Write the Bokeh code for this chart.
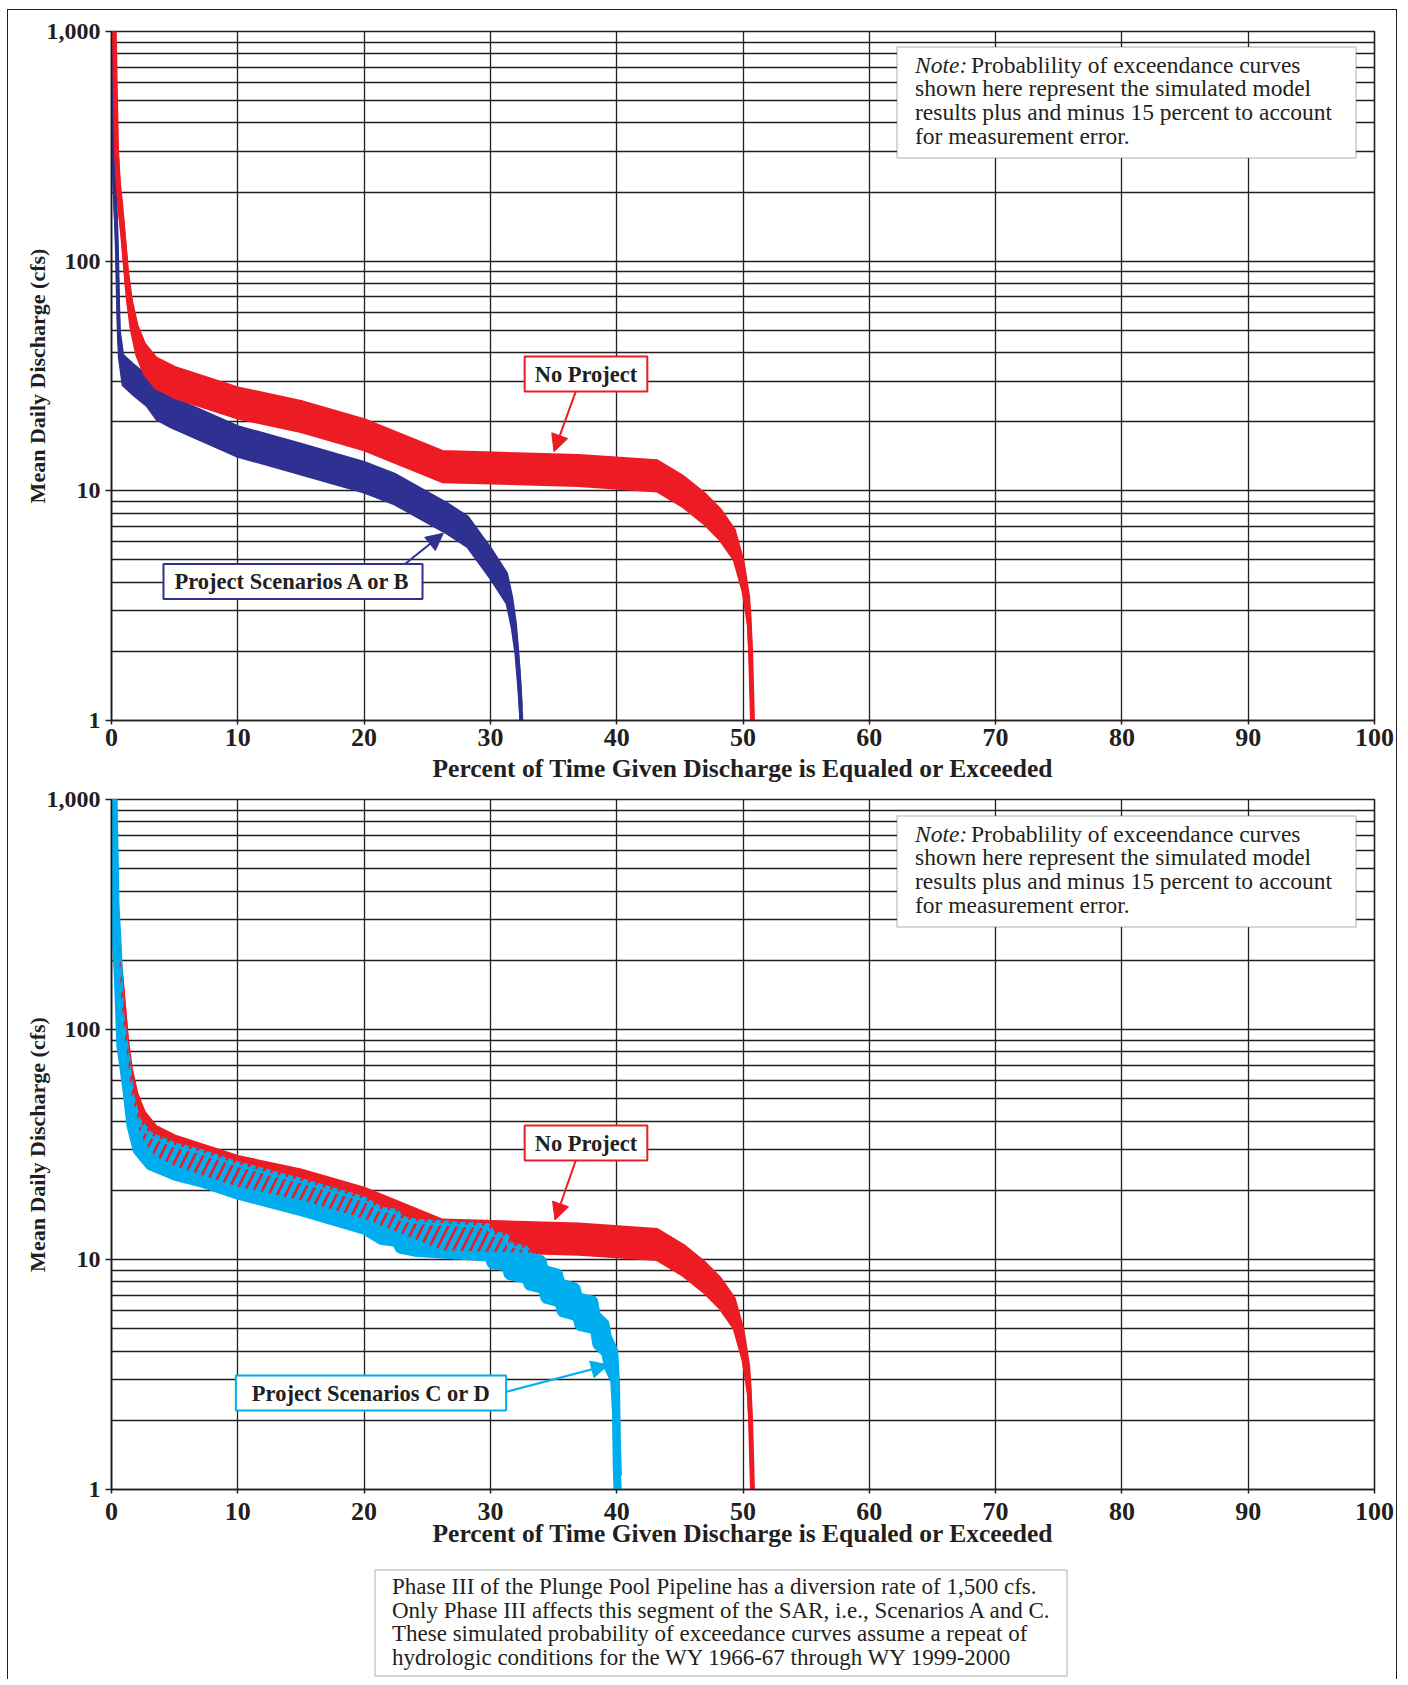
from bokeh.plotting import figure
from bokeh.models import (FixedTicker, NumeralTickFormatter, Label, BoxAnnotation,
                          Arrow, NormalHead, Range1d)
from bokeh.layouts import column
from bokeh.embed import file_html
from bokeh.resources import INLINE

# ---------------- data ----------------
# model (central) exceedance curves: percent of time vs mean daily discharge (cfs)
no_project_pct = [0.22, 0.32, 0.4, 0.58, 0.8, 1.1, 1.25, 1.57, 2.0, 2.6, 3.5, 5.0, 10.0, 15.0,
                  20.0, 26.2, 37.0, 43.2, 45.3, 47.0, 48.2, 49.3, 50.0, 50.45, 50.6, 50.75]
no_project_cfs = [1000, 500, 300, 200, 155, 100, 80, 59, 46, 38, 33, 30, 24.4, 21.3,
                  17.75, 12.9, 12.4, 11.75, 10.0, 8.4, 7.2, 5.9, 4.3, 3.0, 2.0, 1.0]

scen_ab_pct = [0.1, 0.12, 0.22, 0.38, 0.45, 0.52, 0.6, 0.9, 1.8, 2.8, 3.6, 4.7, 10.0, 15.0,
               20.0, 22.4, 26.6, 28.2, 30.0, 31.3, 31.7, 32.0, 32.2, 32.35, 32.45]
scen_ab_cfs = [1000, 350, 220, 140, 100, 65, 45, 34, 30.6, 27.6, 24.0, 22.3, 16.6, 13.9,
               11.6, 10.3, 7.65, 6.7, 4.9, 3.8, 3.0, 2.3, 1.7, 1.3, 1.0]

scen_cd_pct = [0.15, 0.25, 0.32, 0.5, 0.7, 1.17, 1.5, 2.0, 3.0, 5.0, 7.0, 10.0, 15.0, 20.0,
               21.3, 22.5, 22.8, 24.0, 29.8, 30.1, 31.2, 31.4, 32.8, 33.0, 34.1, 34.3, 35.4,
               35.6, 36.8, 37.0, 38.2, 38.4, 39.1, 39.3, 39.8, 39.95, 40.0, 40.1]
scen_cd_cfs = [1000, 500, 300, 200, 100, 65, 45, 35, 30, 27, 25.3, 22.3, 18.9, 15.7,
               14.2, 13.9, 13.0, 12.6, 12.0, 11.1, 10.9, 10.0, 9.6, 9.0, 8.7, 7.9, 7.6,
               6.9, 6.6, 6.0, 5.8, 5.0, 4.6, 4.0, 3.5, 2.5, 1.5, 1.0]

MEASUREMENT_ERROR = 0.15   # curves shown as model +/- 15 percent

x_ticks = [0, 10, 20, 30, 40, 50, 60, 70, 80, 90, 100]
y_ticks = [1, 10, 100, 1000]
y_minor_ticks = [2, 3, 4, 5, 6, 7, 8, 9, 20, 30, 40, 50, 60, 70, 80, 90,
                 200, 300, 400, 500, 600, 700, 800, 900]

note_lines = ["Probablility of exceendance curves",
              "shown here represent the simulated model",
              "results plus and minus 15 percent to account",
              "for measurement error."]
footnote_lines = ["Phase III of the Plunge Pool Pipeline has a diversion rate of 1,500 cfs.",
                  "Only Phase III affects this segment of the SAR, i.e., Scenarios A and C.",
                  "These simulated probability of exceedance curves assume a repeat of",
                  "hydrologic conditions for the WY 1966-67 through WY 1999-2000"]

RED = "#ED1C24"
NAVY = "#2E3192"
CYAN = "#00AEEF"
INK = "#231F20"
SERIF = "Liberation Serif"

FRAME_LEFT = 111.5    # page px of frame left
FRAME_W = 1263
PX_PER_PCT = 12.63
BORDER_L = 103
BORDER_R = 22


def band(values):
    lo = [v * (1 - MEASUREMENT_ERROR) for v in values]
    hi = [v * (1 + MEASUREMENT_ERROR) for v in values]
    return lo, hi


def make_fig(frame_h, top_b, bottom_b, tick_standoff, title_standoff):
    p = figure(x_range=Range1d(0, 100), y_range=Range1d(1, 1000), y_axis_type="log",
               frame_width=FRAME_W, frame_height=frame_h,
               min_border_left=BORDER_L, min_border_right=BORDER_R,
               min_border_top=top_b, min_border_bottom=bottom_b,
               output_backend="svg", toolbar_location=None)
    p.background_fill_color = "white"
    p.border_fill_color = "white"
    p.outline_line_color = INK
    p.outline_line_width = 1.6

    p.xaxis.ticker = FixedTicker(ticks=x_ticks)
    p.yaxis.ticker = FixedTicker(ticks=y_ticks, minor_ticks=y_minor_ticks)
    p.yaxis.formatter = NumeralTickFormatter(format="0,0")

    for ax in (p.xaxis[0], p.yaxis[0]):
        ax.axis_line_color = INK
        ax.axis_line_width = 1.5
        ax.major_tick_line_color = INK
        ax.major_tick_line_width = 1.5
        ax.major_tick_in = 0
        ax.minor_tick_line_color = None
        ax.major_label_text_font = SERIF
        ax.major_label_text_font_style = "bold"
        ax.major_label_text_color = INK
        ax.axis_label_text_font = SERIF
        ax.axis_label_text_font_style = "bold"
        ax.axis_label_text_color = INK

    p.xaxis.major_tick_out = 4
    p.xaxis.major_label_text_font_size = "26px"
    p.xaxis.major_label_standoff = tick_standoff
    p.xaxis.axis_label = "Percent of Time Given Discharge is Equaled or Exceeded"
    p.xaxis.axis_label_text_font_size = "25.5px"
    p.xaxis.axis_label_standoff = title_standoff

    p.yaxis.major_tick_out = 6
    p.yaxis.major_label_text_font_size = "24px"
    p.yaxis.major_label_standoff = 5
    p.yaxis.axis_label = "Mean Daily Discharge (cfs)"
    p.yaxis.axis_label_text_font_size = "22px"
    p.yaxis.axis_label_standoff = -6

    p.xgrid.grid_line_color = INK
    p.xgrid.grid_line_width = 1.3
    p.ygrid.grid_line_color = INK
    p.ygrid.grid_line_width = 1.3
    p.ygrid.minor_grid_line_color = INK
    p.ygrid.minor_grid_line_width = 1.3
    return p


def helpers(frame_top, frame_h):
    dec = frame_h / 3.0

    def px(x):
        return (x - FRAME_LEFT) / PX_PER_PCT

    def py(y):
        return 10 ** (3 - (y - frame_top) / dec)
    return px, py


def add_note(p, px, py, off):
    p.add_layout(BoxAnnotation(left=px(897), right=px(1356), top=py(47 + off), bottom=py(158 + off),
                               fill_color="white", fill_alpha=1.0,
                               line_color="#4D4D4D", line_width=1.5))
    base = [64.5, 88.2, 111.9, 135.6]
    p.add_layout(Label(x=px(915), y=py(base[0] + off), text="Note:", text_font=SERIF,
                       text_font_style="italic", text_font_size="23.5px", text_color=INK,
                       text_baseline="alphabetic"))
    for i, line in enumerate(note_lines):
        x0 = 971 if i == 0 else 915
        p.add_layout(Label(x=px(x0), y=py(base[i] + off), text=line, text_font=SERIF,
                           text_font_size="23.5px", text_color=INK, text_baseline="alphabetic"))


def add_callout(p, px, py, text, color, cx, cy, sx, sy, ex, ey, pad):
    p.add_layout(Arrow(end=NormalHead(size=17, fill_color=color, line_color=color),
                       x_start=px(sx), y_start=py(sy), x_end=px(ex), y_end=py(ey),
                       line_color=color, line_width=2))
    p.add_layout(Label(x=px(cx), y=py(cy), text=text, text_font=SERIF, text_font_style="bold",
                       text_font_size="22.5px", text_color=INK, text_align="center",
                       text_baseline="middle", background_fill_color="white",
                       border_line_color=color, border_line_width=2, padding=pad))


def add_band(p, pct, cfs, color, center_w, edge_w):
    lo, hi = band(cfs)
    p.varea(x=pct, y1=lo, y2=hi, fill_color=color)
    p.line(pct, cfs, line_color=color, line_width=center_w)
    if edge_w:
        p.line(pct, hi, line_color=color, line_width=edge_w)
        p.line(pct, lo, line_color=color, line_width=edge_w)


# ---------------- top chart: No Project vs Scenarios A or B ----------------
p1 = make_fig(689, 21, 67, 4, 5)
px1, py1 = helpers(31.5, 689)
add_band(p1, scen_ab_pct, scen_ab_cfs, NAVY, 4, 2.5)
add_band(p1, no_project_pct, no_project_cfs, RED, 5, 3)
add_note(p1, px1, py1, 0)
add_callout(p1, px1, py1, "No Project", RED, 586, 374, 575.7, 391.7, 554, 451.7, (10, 5))
add_callout(p1, px1, py1, "Project Scenarios A or B", NAVY, 293, 581.5, 405, 564, 443.3, 533.3, (11, 5))

# ---------------- bottom chart: No Project vs Scenarios C or D ----------------
p2 = make_fig(690, 12, 62, 9, -4)
px2, py2 = helpers(799.5, 690)
add_band(p2, no_project_pct, no_project_cfs, RED, 5, 3)
add_band(p2, scen_cd_pct, scen_cd_cfs, CYAN, 7, 8)
np_lo, np_hi = band(no_project_cfs)
cd_lo, cd_hi = band(scen_cd_cfs)
# overlap of the two bands: red hatching over the cyan band
p2.varea(x=no_project_pct, y1=np_lo, y2=np_hi, fill_alpha=0, hatch_pattern="/",
         hatch_color=RED, hatch_scale=17, hatch_weight=2.6)
p2.line(scen_cd_pct, cd_hi, line_color=CYAN, line_width=2.5)
add_note(p2, px2, py2, 769)
add_callout(p2, px2, py2, "No Project", RED, 586, 1143, 575.7, 1160.7, 555, 1220, (10, 5))
add_callout(p2, px2, py2, "Project Scenarios C or D", CYAN, 371, 1393, 506.7, 1391.7, 608.3, 1365, (16, 5))

# ---------------- footnote panel (coordinates = page pixels) ----------------
FOOT_H = 128
FOOT_TOP = 1551.5
p3 = figure(frame_width=FRAME_W, frame_height=FOOT_H,
            x_range=Range1d(FRAME_LEFT, FRAME_LEFT + FRAME_W), y_range=Range1d(0, FOOT_H),
            x_axis_location=None, y_axis_location=None,
            min_border_left=BORDER_L, min_border_right=BORDER_R,
            min_border_top=0, min_border_bottom=0,
            output_backend="svg", toolbar_location=None)
p3.grid.visible = False
p3.outline_line_color = None
p3.background_fill_color = "white"
p3.border_fill_color = "white"


def fy(y):
    return FOOT_H - (y - FOOT_TOP)


p3.add_layout(BoxAnnotation(left=375, right=1067, top=fy(1570), bottom=fy(1676),
                            fill_color="white", fill_alpha=1.0,
                            line_color="#4D4D4D", line_width=1.5))
for i, line in enumerate(footnote_lines):
    p3.add_layout(Label(x=392, y=fy(1586.5 + 23.6 * i), text=line, text_font=SERIF,
                        text_font_size="23px", text_color=INK, text_baseline="alphabetic"))

layout = column(p1, p2, p3, spacing=0,
                styles={"margin-left": "7px", "margin-top": "9px",
                        "border-left": "1.5px solid #231F20",
                        "border-top": "1.5px solid #231F20",
                        "border-right": "1.5px solid #231F20"})

open("out.html", "w").write(file_html(layout, INLINE))
